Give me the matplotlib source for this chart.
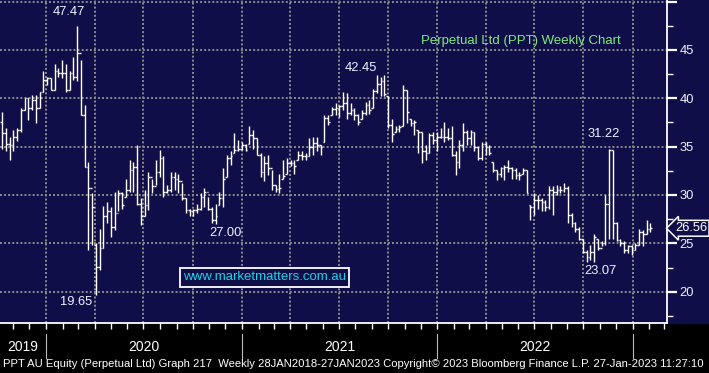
import matplotlib
matplotlib.use("Agg")
import matplotlib.pyplot as plt
import matplotlib.dates as mdates
import matplotlib.transforms as mtransforms
from matplotlib.ticker import MultipleLocator, FixedLocator
import pandas as pd

# weekly OHLC (Oct 2019 - Jan 2023)
highs = [38.6, 36.9, 36.0, 36.7, 36.9, 39.0, 40.0, 40.0, 40.3, 40.3,
         40.7, 42.8, 42.2, 42.1, 43.6, 43.1, 44.0, 43.6, 42.8, 44.3,
         47.47, 44.0, 39.3, 33.4, 30.2, 25.0, 26.5, 28.9, 29.3, 28.8,
         30.3, 30.5, 30.3, 31.7, 33.6, 33.4, 35.2, 29.7, 30.5, 32.4,
         31.7, 33.6, 34.7, 34.0, 31.0, 32.4, 32.4, 32.2, 31.2, 29.7,
         28.6, 28.6, 29.1, 30.2, 30.7, 29.8, 28.8, 29.1, 30.3, 32.8,
         34.1, 34.5, 36.4, 35.7, 35.5, 35.3, 37.1, 36.7, 35.9, 34.3,
         34.0, 34.1, 32.6, 31.0, 32.2, 33.6, 33.8, 33.6, 33.6, 34.6,
         34.6, 34.3, 35.9, 36.0, 36.0, 35.2, 38.3, 38.3, 39.1, 39.5,
         39.3, 40.7, 40.5, 39.5, 39.0, 38.4, 38.8, 39.6, 39.8, 41.0,
         42.4, 42.2, 42.45, 40.2, 37.9, 37.1, 37.2, 41.4, 40.9, 37.9,
         37.8, 36.7, 36.5, 35.2, 36.4, 36.5, 36.5, 36.9, 37.6, 36.9,
         37.1, 34.5, 35.7, 37.4, 36.7, 36.7, 36.5, 35.0, 35.5, 35.5,
         35.2, 33.4, 32.6, 32.9, 33.1, 33.6, 32.9, 32.8, 32.4, 32.8,
         32.6, 29.0, 30.2, 30.0, 29.7, 29.5, 30.9, 30.9, 31.0, 30.9,
         31.2, 30.9, 28.1, 27.2, 26.7, 25.5, 24.3, 24.8, 26.0, 25.5,
         25.2, 30.0, 34.8, 34.7, 27.2, 25.5, 25.2, 24.8, 24.8, 25.0,
         26.5, 26.4, 27.4, 27.1]
lows = [34.8, 34.6, 33.6, 34.5, 35.6, 36.5, 38.8, 37.8, 38.8, 37.4,
        39.0, 40.7, 41.4, 40.9, 40.9, 42.2, 42.1, 40.7, 40.9, 41.9,
        41.8, 38.3, 32.9, 24.3, 24.8, 19.65, 22.2, 24.5, 27.1, 25.7,
        26.4, 28.3, 28.6, 29.8, 30.3, 30.3, 29.0, 26.9, 27.8, 28.4,
        30.2, 31.0, 31.9, 29.8, 30.2, 30.3, 30.5, 30.2, 29.5, 28.1,
        27.8, 27.8, 28.1, 28.4, 28.8, 28.4, 27.1, 27.0, 29.0, 28.8,
        31.9, 33.1, 34.3, 34.5, 34.7, 34.5, 35.3, 34.8, 34.1, 31.9,
        31.4, 32.1, 30.5, 30.3, 30.2, 31.7, 32.2, 33.0, 32.2, 33.6,
        33.6, 33.6, 34.0, 34.1, 34.6, 34.1, 35.5, 37.2, 38.3, 38.3,
        38.1, 38.8, 37.9, 38.3, 37.8, 37.2, 37.9, 38.3, 38.4, 39.0,
        40.5, 40.2, 40.2, 36.9, 35.5, 36.5, 36.5, 37.1, 37.4, 37.1,
        36.2, 34.3, 33.3, 33.6, 34.3, 35.3, 34.6, 35.9, 35.5, 35.7,
        34.0, 32.1, 32.8, 34.6, 35.2, 35.2, 34.6, 33.6, 33.6, 34.1,
        34.1, 32.4, 31.5, 31.9, 31.5, 32.4, 31.7, 31.7, 31.5, 32.2,
        30.2, 27.4, 27.9, 28.6, 28.3, 28.3, 28.6, 27.9, 30.0, 30.2,
        30.3, 27.1, 26.7, 26.2, 25.3, 24.0, 23.07, 23.3, 23.1, 24.3,
        24.7, 24.8, 25.5, 25.5, 25.2, 24.7, 24.0, 24.0, 23.8, 24.3,
        24.8, 24.7, 26.0, 26.2]
closes = [36.4, 35.3, 35.2, 36.0, 36.7, 38.8, 40.0, 39.0, 39.8, 39.0,
          40.7, 41.9, 42.1, 40.9, 42.8, 42.6, 42.6, 40.9, 42.6, 42.2,
          44.7, 38.3, 32.9, 30.7, 28.8, 22.6, 24.5, 27.8, 28.3, 26.7,
          28.1, 30.2, 29.0, 30.5, 32.6, 32.9, 29.1, 27.8, 29.0, 31.9,
          30.9, 32.4, 33.8, 30.3, 30.5, 31.9, 31.7, 31.4, 29.7, 28.4,
          28.3, 28.4, 28.6, 29.8, 30.3, 28.6, 27.4, 27.8, 29.7, 31.7,
          33.8, 34.0, 34.7, 34.8, 35.2, 34.7, 36.2, 35.9, 34.1, 32.4,
          33.3, 32.8, 31.0, 30.6, 30.7, 32.0, 33.3, 33.3, 33.0, 34.1,
          34.0, 34.0, 35.0, 35.4, 35.2, 35.0, 38.0, 37.6, 38.9, 39.0,
          39.2, 39.5, 38.5, 38.8, 38.3, 37.5, 38.5, 39.3, 38.8, 40.8,
          41.5, 41.8, 40.4, 37.2, 36.3, 36.8, 37.0, 40.9, 38.6, 37.4,
          37.6, 36.5, 34.5, 34.3, 36.2, 35.7, 36.0, 36.0, 36.0, 35.9,
          34.1, 33.4, 35.2, 36.5, 35.9, 36.5, 35.0, 33.8, 35.3, 35.0,
          34.3, 32.6, 32.2, 32.8, 32.9, 32.8, 32.6, 32.1, 32.1, 32.6,
          30.2, 28.8, 29.5, 29.5, 29.3, 28.8, 30.5, 30.3, 30.5, 30.5,
          30.7, 27.9, 27.1, 26.5, 25.5, 24.1, 23.6, 24.1, 25.7, 24.5,
          25.0, 29.1, 34.7, 27.1, 25.3, 25.0, 24.3, 24.7, 24.3, 24.8,
          26.2, 26.0, 26.5, 26.56]
opens = [37.5, 36.4, 35.3, 35.2, 36.0, 36.7, 38.8, 40.0, 39.0, 39.8,
         39.0, 40.7, 41.9, 42.1, 40.9, 42.8, 42.6, 42.6, 40.9, 42.6,
         42.2, 44.7, 38.3, 32.9, 30.7, 24.8, 22.6, 24.5, 27.8, 28.3,
         26.7, 28.1, 30.2, 29.8, 30.5, 32.6, 32.9, 29.1, 27.8, 29.0,
         31.9, 30.9, 32.4, 33.8, 30.3, 30.5, 31.9, 31.7, 31.4, 29.7,
         28.4, 28.3, 28.4, 28.6, 29.8, 30.3, 28.6, 27.4, 29.0, 29.7,
         31.9, 33.8, 34.3, 34.7, 34.8, 35.2, 35.3, 36.2, 35.9, 34.1,
         32.4, 33.3, 32.8, 31.0, 30.6, 31.7, 32.2, 33.3, 33.3, 33.6,
         34.1, 34.0, 34.0, 35.0, 35.4, 35.2, 35.5, 38.0, 38.3, 38.9,
         39.0, 39.2, 39.5, 38.5, 38.8, 38.3, 37.9, 38.5, 39.3, 39.0,
         40.8, 41.5, 41.8, 40.2, 37.2, 36.5, 36.8, 37.1, 40.9, 37.9,
         37.4, 36.7, 36.5, 34.5, 34.3, 36.2, 35.7, 36.0, 36.0, 36.0,
         35.9, 34.1, 33.4, 35.2, 36.5, 35.9, 36.5, 35.0, 33.8, 35.3,
         35.0, 33.4, 32.6, 32.2, 32.8, 32.9, 32.8, 32.6, 32.1, 32.2,
         32.6, 29.0, 28.8, 29.5, 29.5, 29.3, 28.8, 30.5, 30.3, 30.5,
         30.5, 30.7, 27.9, 27.1, 26.5, 25.5, 24.1, 23.6, 24.1, 25.5,
         24.5, 25.0, 29.1, 34.7, 27.1, 25.3, 25.0, 24.3, 24.7, 24.3,
         24.8, 26.2, 26.0, 26.5]

dates = pd.date_range("2019-10-11", periods=len(closes), freq="7D")
years = [2019, 2020, 2021, 2022, 2023]
year_labels = ["2019", "2020", "2021", "2022", ""]
ytick_vals = [20, 25, 30, 35, 40, 45, 50]
ytick_labels = ["20", "25", "30", "35", "40", "45", ""]

navy = "#100e48"
W, H = 709, 373
fig = plt.figure(figsize=(W / 100, H / 100), dpi=100, facecolor="black")
ax = fig.add_axes([0, 50 / H, 667 / W, 323 / H])
ax.set_facecolor(navy)
# navy strip behind the price scale
fig.patches.append(plt.Rectangle((667 / W, 50 / H), 42 / W, 323 / H,
                                 transform=fig.transFigure, color=navy, zorder=-5))

x = mdates.date2num(dates)
ax.vlines(x, lows, highs, color="white", lw=1.0, zorder=3)
ax.hlines(opens, x - 3.2, x, color="white", lw=1.0, zorder=3)
ax.hlines(closes, x, x + 3.2, color="white", lw=1.0, zorder=3)

ax.set_xlim(mdates.date2num(pd.Timestamp("2019-10-07")),
            mdates.date2num(pd.Timestamp("2023-03-06")))
ax.set_ylim(16.76, 50.17)

# axes styling
for s in ["left", "top"]:
    ax.spines[s].set_visible(False)
ax.spines["right"].set_color("white")
ax.spines["right"].set_linewidth(1.3)
ax.spines["bottom"].set_color("white")
ax.spines["bottom"].set_linewidth(1.3)

ax.xaxis.set_major_locator(mdates.MonthLocator(bymonth=[1, 4, 7, 10]))
ax.xaxis.set_minor_locator(mdates.MonthLocator())
ax.tick_params(axis="x", which="both", direction="out", length=4, width=1,
               color="white", labelbottom=False)

ax.yaxis.tick_right()
ax.yaxis.set_major_locator(FixedLocator(ytick_vals))
ax.set_yticklabels(ytick_labels)
ax.yaxis.set_minor_locator(MultipleLocator(2.5))
ax.tick_params(axis="y", which="major", direction="out", length=7, width=1.6,
               color="white", pad=2, labelsize=9.3, labelcolor="#eef2ff")
ax.tick_params(axis="y", which="minor", direction="out", length=4, width=1,
               color="white")
for lab in ax.get_yticklabels():
    lab.set_family("Liberation Sans")

ax.grid(True, which="major", color="#8c8c8c", lw=1.4,
        linestyle=(0, (1.0, 1.1)), zorder=1)
ax.set_axisbelow(True)

# annotations (pixel positions of the reference, as axes fractions)
def px(xp, yp):
    return xp / 667, 1 - yp / 323

lab_kw = dict(transform=ax.transAxes, ha="center", va="center",
              fontsize=9.3, color="#eef2ff", family="Liberation Sans", zorder=5)
for txt, (xp, yp) in [("47.47", (69, 12)), ("19.65", (76, 302)),
                      ("27.00", (226, 233)), ("42.45", (361, 68)),
                      ("31.22", (604, 134)), ("23.07", (600, 271))]:
    ax.text(*px(xp, yp), txt, **lab_kw)

ax.text(*px(521, 41), "Perpetual Ltd (PPT) Weekly Chart", transform=ax.transAxes,
        ha="center", va="center", fontsize=9.5, color="#7eea7e",
        family="Liberation Sans", zorder=5)

ax.text(*px(264.5, 277.5), "www.marketmatters.com.au", transform=ax.transAxes,
        ha="center", va="center", fontsize=9.5, color="#1ad4e4",
        family="Liberation Sans", zorder=5,
        bbox=dict(boxstyle="square,pad=0.25", fc=navy, ec="white", lw=1.3))

# last price tag
tag_tr = mtransforms.blended_transform_factory(ax.transAxes, ax.transData)
ax.text(1.012, closes[-1], "%.2f" % closes[-1], transform=tag_tr,
        ha="left", va="center", fontsize=9.3, color="white",
        family="Liberation Sans", clip_on=False, zorder=6,
        bbox=dict(boxstyle="larrow,pad=0.15", fc=navy, ec="white", lw=1.1))

# year labels and separators under the axis
yr_tr = mtransforms.blended_transform_factory(ax.transData, fig.transFigure)
x0, x1 = ax.get_xlim()
for yr, lab in zip(years, year_labels):
    a = max(mdates.date2num(pd.Timestamp(f"{yr}-01-01")), x0)
    b = min(mdates.date2num(pd.Timestamp(f"{yr + 1}-01-01")), x1)
    if lab:
        ax.text((a + b) / 2, 1 - 347 / H, lab, transform=yr_tr, ha="center",
                va="center", fontsize=10, color="white",
                family="Liberation Sans", clip_on=False)
    if yr > 2019:
        ax.plot([a, a], [1 - 334 / H, 1 - 358 / H], transform=yr_tr,
                color="#bbbbbb", lw=0.8, clip_on=False)

fig.text(3 / W, 1 - 364 / H,
         "PPT AU Equity (Perpetual Ltd) Graph 217  Weekly 28JAN2018-27JAN2023 "
         "Copyright\u00a9 2023 Bloomberg Finance L.P. 27-Jan-2023 11:27:10",
         ha="left", va="center", fontsize=8.15, color="white",
         family="Liberation Sans")

fig.savefig("out.png", dpi=100, facecolor="black")
